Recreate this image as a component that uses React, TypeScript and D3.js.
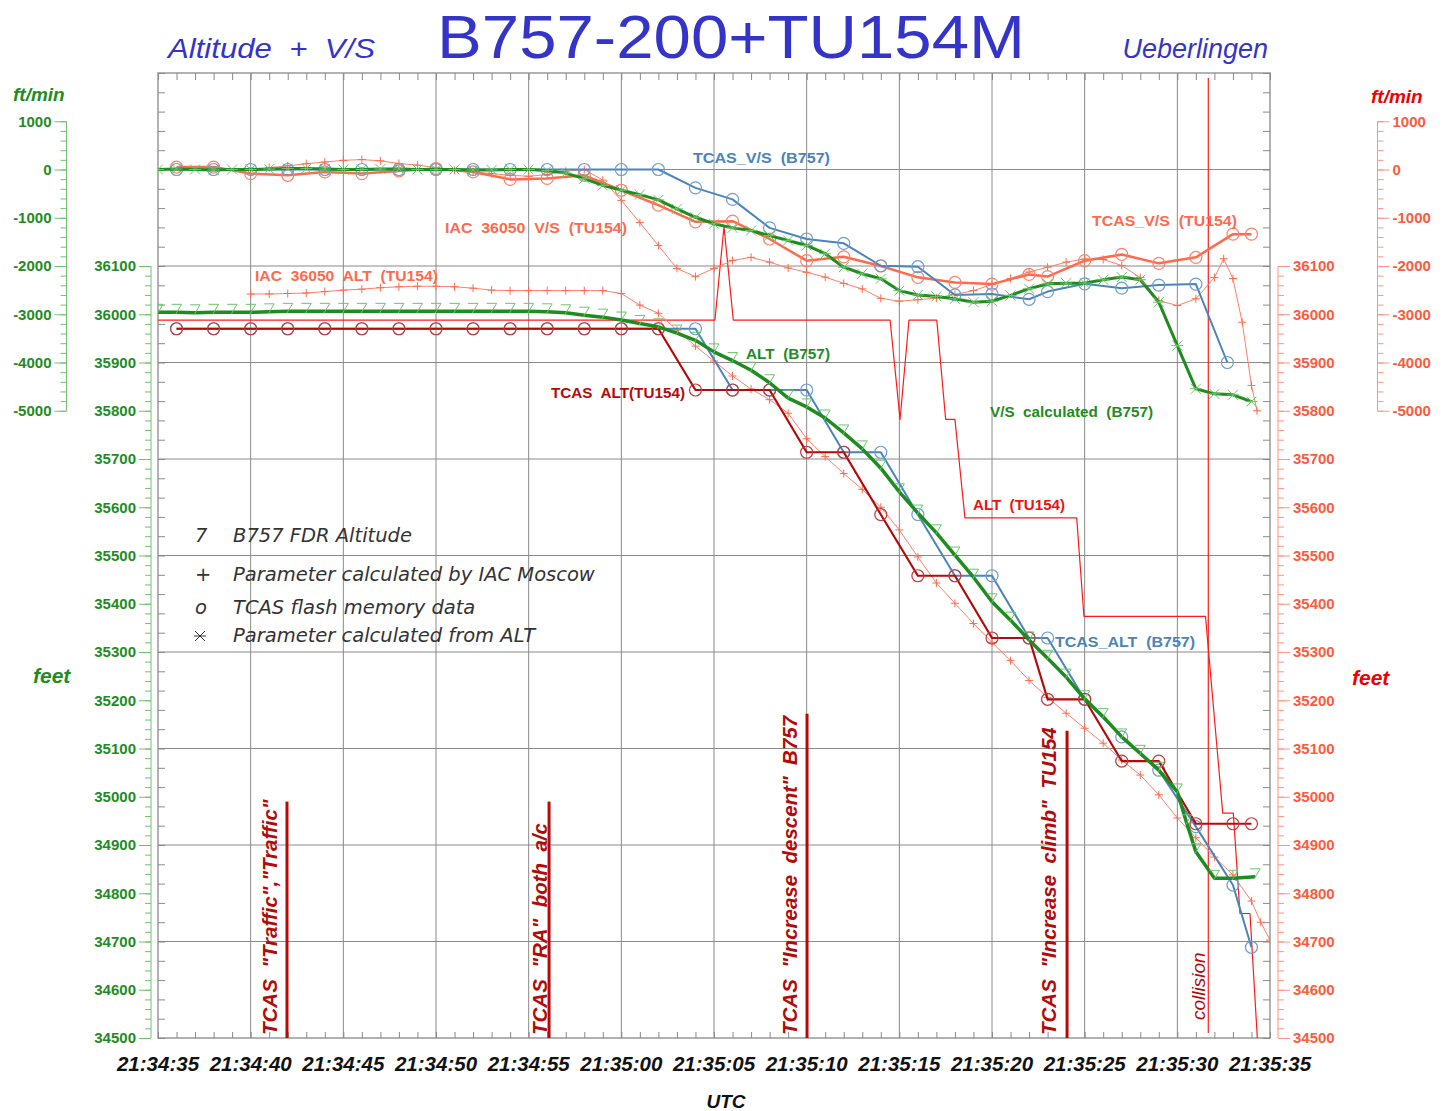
import React, { useEffect, useRef } from "react";
import * as d3 from "d3";

type Pt = [number, number];

// x values: seconds after 21:34:35 UTC
const timeLabels = ["21:34:35", "21:34:40", "21:34:45", "21:34:50", "21:34:55", "21:35:00", "21:35:05",
  "21:35:10", "21:35:15", "21:35:20", "21:35:25", "21:35:30", "21:35:35"];
const vsTickValues = [1000, 0, -1000, -2000, -3000, -4000, -5000];
const altTickValues = [36100, 36000, 35900, 35800, 35700, 35600, 35500, 35400, 35300, 35200, 35100,
  35000, 34900, 34800, 34700, 34600, 34500];

// ---- vertical speed, ft/min ----
const tcasVsB757: Pt[] = [[1, 0], [3, 0], [5, 0], [7, 0], [9, 0], [11, 0], [13, 0], [15, 0], [17, 0], [19, 0],
  [21, 0], [23, 0], [25, 0], [27, 0], [29, -380], [31, -620], [33, -1210], [35, -1440], [37, -1530], [39, -1995],
  [41, -2015], [43, -2600], [45, -2580], [47, -2690], [48, -2530], [50, -2370], [52, -2460], [54, -2395],
  [56, -2375], [57.7, -4000]];

const tcasVsTu154: Pt[] = [[1, 50], [3, 50], [5, -85], [7, -120], [9, -50], [11, -85], [13, -30], [15, 20],
  [17, -50], [19, -205], [21, -185], [23, -120], [25, -430], [27, -740], [29, -1085], [31, -1070], [33, -1440],
  [35, -1890], [37, -1810], [39, -2000], [41, -2235], [43, -2340], [45, -2375], [47, -2175], [48, -2220],
  [50, -1890], [52, -1760], [54, -1945], [56, -1820], [58, -1340], [59, -1340]];

const iacVsTu154: Pt[] = [[6, 40], [7, 75], [8, 120], [9, 155], [10, 190], [11, 205], [12, 180], [13, 125],
  [14, 90], [15, 40], [16, -15], [17, -50], [18, -85], [19, -120], [20, -140], [21, -105], [22, -35], [23, 0],
  [24, -220], [25, -640], [26, -1100], [27, -1575], [28, -2050], [29, -2220], [30, -2050], [31, -1885],
  [32, -1820], [33, -1920], [34, -2040], [35, -2130], [36, -2230], [37, -2360], [38, -2475], [39, -2670],
  [40, -2730], [41, -2700], [42, -2665], [43, -2590], [44, -2510], [45, -2385], [46, -2260], [47, -2125],
  [48, -2025], [49, -1920], [50, -1855], [51, -1865], [52, -1990], [53, -2240], [54, -2715], [55, -2820],
  [56, -2680], [57, -2240], [57.5, -1850], [58, -2260], [58.5, -3165], [59, -4475], [59.3, -5000]];

// one value per second from 21:34:35
const vsCalcB757 = [0, 10, 0, -10, 0, 0, 10, 20, 20, 10, 0, 0, 10, 10, 0, 0, 0, -10, -10, 0,
  0, -20, -75, -190, -330, -430, -520, -630, -815, -990, -1125, -1210, -1265, -1370, -1470, -1575, -1745,
  -2025, -2160, -2265, -2510, -2600, -2630, -2680, -2750, -2730, -2610, -2470, -2370, -2355, -2355, -2285,
  -2230, -2285, -2750, -3650, -4545, -4650, -4670, -4810];

// ---- altitude, ft ----
const altB757: Pt[] = [[0, 36004], [1, 36004], [2, 36003], [3, 36004], [4, 36004], [5, 36004], [6, 36005],
  [7, 36006], [8, 36006], [9, 36006], [10, 36006], [11, 36006], [12, 36006], [13, 36006], [14, 36006],
  [15, 36006], [16, 36006], [17, 36006], [18, 36006], [19, 36006], [20, 36006], [21, 36005], [22, 36003],
  [23, 35998], [24, 35994], [25, 35988], [26, 35981], [27, 35974], [28, 35961], [29, 35946], [30, 35922],
  [31, 35904], [32, 35884], [33, 35858], [34, 35826], [35, 35808], [36, 35785], [37, 35754], [38, 35721],
  [39, 35681], [40, 35632], [41, 35588], [42, 35547], [43, 35501], [44, 35455], [45, 35404], [46, 35366],
  [47, 35325], [48, 35287], [49, 35248], [50, 35203], [51, 35166], [52, 35124], [53, 35090], [54, 35055],
  [55, 35010], [55.5, 34946], [56, 34886], [57, 34831], [58, 34831], [59.2, 34834]];

const iacAltTu154: Pt[] = [[5, 36042], [6, 36042], [7, 36043], [8, 36044], [9, 36047], [10, 36050], [11, 36052],
  [12, 36055], [13, 36057], [14, 36058], [15, 36058], [16, 36057], [17, 36054], [18, 36050], [19, 36049],
  [20, 36049], [21, 36049], [22, 36049], [23, 36049], [24, 36049], [25, 36043], [26, 36019], [27, 36002],
  [28, 35967], [29, 35934], [30, 35903], [31, 35872], [32, 35845], [33, 35823], [34, 35795], [35, 35742],
  [36, 35705], [37, 35670], [38, 35637], [39, 35600], [40, 35553], [41, 35497], [42, 35443], [43, 35401],
  [44, 35359], [45, 35320], [46, 35282], [47, 35241], [48, 35206], [49, 35173], [50, 35142], [51, 35111],
  [52, 35076], [53, 35045], [54, 35004], [55, 34956], [56, 34915], [57, 34875], [58, 34838], [59, 34784],
  [59.5, 34740], [60, 34703]];

const tcasAltB757: Pt[] = [[1, 35970], [3, 35970], [5, 35970], [7, 35970], [9, 35970], [11, 35970], [13, 35970],
  [15, 35970], [17, 35970], [19, 35970], [21, 35970], [23, 35970], [25, 35970], [27, 35970], [29, 35970],
  [31, 35843], [33, 35843], [35, 35843], [37, 35714], [39, 35714], [41, 35585], [43, 35458], [45, 35458],
  [47, 35329], [48, 35329], [50, 35202], [52, 35124], [54, 35055], [56, 34938], [58, 34817], [59, 34688]];

const tcasAltTu154: Pt[] = [[1, 35970], [3, 35970], [5, 35970], [7, 35970], [9, 35970], [11, 35970],
  [13, 35970], [15, 35970], [17, 35970], [19, 35970], [21, 35970], [23, 35970], [25, 35970], [27, 35970],
  [29, 35843], [31, 35843], [33, 35843], [35, 35714], [37, 35714], [39, 35585], [41, 35458], [43, 35458],
  [45, 35329], [47, 35329], [48, 35202], [50, 35202], [52, 35074], [54, 35074], [56, 34944], [58, 34944],
  [59, 34944]];

const altTu154: Pt[] = [[0, 35988], [30.05, 35988], [30.54, 36182], [31.04, 35988], [39.5, 35988],
  [40.04, 35782], [40.52, 35988], [42.02, 35988], [42.5, 35782], [43, 35782], [43.54, 35578], [49.57, 35578],
  [49.96, 35374], [56.52, 35374], [57.45, 34966], [58.02, 34966], [58.38, 34758], [58.92, 34758],
  [59.5, 34380]];

// TCAS events: line time, top of line (ft), label position (time)
const events = [
  { t: 6.96, top: 34990, labelT: 6.42, label: 'TCAS  "Traffic","Traffic"' },
  { t: 21.1, top: 34990, labelT: 20.99, label: 'TCAS  "RA"  both  a/c' },
  { t: 35.02, top: 35172, labelT: 34.48, label: 'TCAS  "Increase  descent"  B757' },
  { t: 49.05, top: 35137, labelT: 48.45, label: 'TCAS  "Increase  climb"  TU154' },
];
const collisionT = 56.67;
const collisionLabelT = 56.5;

const legendItems = [
  { sym: "7", text: "B757 FDR Altitude" },
  { sym: "+", text: "Parameter calculated by IAC Moscow" },
  { sym: "o", text: "TCAS flash memory data" },
  { sym: "*", text: "Parameter calculated from ALT" },
];

const green = "#1f8c1f";
const greenLight = "#6cc46c";
const blue = "#4a84bb";
const blueLight = "#6c9ed0";
const darkRed = "#b40a0a";
const salmon = "#ff6a4d";
const salmonLight = "#ff8068";
const red = "#ff1a1a";
const sans = "'Liberation Sans', Arial, sans-serif";
const thin = "'DejaVu Sans ExtraLight', 'DejaVu Sans', sans-serif";

const markerPath: Record<string, string> = {
  plus: "M-4,0H4M0,-4V4",
  star: "M-5,-5L5,5M-5,5L5,-5M-6,0H6",
  seven: "M-5,-5H5L-1,5",
};

export default function App() {
  const svgRef = useRef<SVGSVGElement>(null);

  useEffect(() => {
    const svg = d3.select(svgRef.current);
    svg.selectAll("*").remove();

    const L = 158, R = 1270, T = 73, B = 1038;
    const x = d3.scaleLinear().domain([0, 60]).range([L, R]);
    const yAlt = d3.scaleLinear().domain([34500, 36500]).range([B, T]);
    const yVs = d3.scaleLinear().domain([-18000, 2000]).range([B, T]);

    svg.append("defs").append("clipPath").attr("id", "plot")
      .append("rect").attr("x", L).attr("y", T).attr("width", R - L).attr("height", B - T);

    // grid
    const grid = svg.append("g").attr("stroke", "#8a8a8a").attr("stroke-width", 1);
    d3.range(5, 60, 5).forEach((t) =>
      grid.append("line").attr("x1", x(t)).attr("x2", x(t)).attr("y1", T).attr("y2", B));
    d3.range(34700, 36400, 200).forEach((a) =>
      grid.append("line").attr("x1", L).attr("x2", R).attr("y1", yAlt(a)).attr("y2", yAlt(a)));
    svg.append("rect").attr("x", L).attr("y", T).attr("width", R - L).attr("height", B - T)
      .attr("fill", "none").attr("stroke", "#999").attr("stroke-width", 1.5);

    // frame ticks
    const frameTicks = (g: any) => {
      g.select(".domain").remove();
      g.selectAll("line").attr("stroke", "#8a8a8a");
    };
    const secs = d3.range(0, 61);
    const feet40 = d3.range(34500, 36501, 40);
    svg.append("g").attr("transform", `translate(0,${T})`)
      .call(d3.axisBottom(x).tickValues(secs).tickSize(7).tickFormat(() => "")).call(frameTicks);
    svg.append("g").attr("transform", `translate(0,${B})`)
      .call(d3.axisTop(x).tickValues(secs).tickSize(6).tickFormat(() => "")).call(frameTicks);
    svg.append("g").attr("transform", `translate(${L},0)`)
      .call(d3.axisRight(yAlt).tickValues(feet40).tickSize(7).tickFormat(() => "")).call(frameTicks);
    svg.append("g").attr("transform", `translate(${R},0)`)
      .call(d3.axisLeft(yAlt).tickValues(feet40).tickSize(7).tickFormat(() => "")).call(frameTicks);

    // side axes
    const sideAxis = (x0: number, scale: any, majors: number[], minors: number[], left: boolean,
      lineColor: string, textColor: string) => {
      const gen = left ? d3.axisLeft : d3.axisRight;
      const g = svg.append("g").attr("transform", `translate(${x0},0)`);
      g.append("g").call(gen(scale).tickValues(minors).tickSize(6).tickFormat(() => ""));
      g.append("g").call(gen(scale).tickValues(majors).tickSize(12).tickPadding(3)
        .tickFormat((d: any) => String(d)));
      g.selectAll(".domain").remove();
      g.selectAll("line").attr("stroke", lineColor);
      g.selectAll("text").attr("fill", textColor).attr("font-family", sans)
        .attr("font-weight", "bold").attr("font-size", 15);
      g.append("line").attr("y1", scale(d3.max(majors))).attr("y2", scale(d3.min(majors)))
        .attr("stroke", lineColor);
    };
    const vsMinor = d3.range(-5000, 1001, 200);
    const altMinor = d3.range(34500, 36101, 20);
    sideAxis(66.5, yVs, vsTickValues, vsMinor, true, "#72c072", green);
    sideAxis(151, yAlt, altTickValues, altMinor, true, "#72c072", green);
    sideAxis(1278, yAlt, altTickValues, altMinor, false, "#ff9482", "#ff5a3c");
    sideAxis(1377.5, yVs, vsTickValues, vsMinor, false, "#ff9482", "#ff5a3c");

    // x tick labels
    svg.append("g").selectAll("text").data(timeLabels).join("text")
      .attr("x", (_d, i) => x(i * 5)).attr("y", 1071).attr("text-anchor", "middle")
      .attr("font-family", sans).attr("font-weight", "bold").attr("font-style", "italic")
      .attr("font-size", 20.5).attr("fill", "#111").text((d) => d);

    const txt = (t: string, px: number, py: number, size: number, color: string,
      opts: { anchor?: string; bold?: boolean; italic?: boolean; len?: number; family?: string; weight?: number } = {}) => {
      const el = svg.append("text").attr("x", px).attr("y", py).attr("font-size", size)
        .attr("font-family", opts.family || sans).attr("fill", color)
        .attr("text-anchor", opts.anchor || "start")
        .attr("font-weight", opts.weight || (opts.bold ? "bold" : "normal"))
        .attr("font-style", opts.italic ? "italic" : "normal")
        .style("white-space", "pre").text(t);
      if (opts.len) el.attr("textLength", opts.len).attr("lengthAdjust", "spacingAndGlyphs");
      return el;
    };

    // titles
    txt("B757-200+TU154M", 731, 58, 62, "#3434c8", { anchor: "middle", len: 588 });
    txt("Altitude  +  V/S", 168, 58, 27, "#3434c8", { italic: true, len: 207 });
    txt("Ueberlingen", 1268, 58, 27, "#3434c8", { italic: true, anchor: "end" });
    txt("ft/min", 13, 101, 19, green, { bold: true, italic: true });
    txt("feet", 33, 683, 21, green, { bold: true, italic: true });
    txt("ft/min", 1371, 103, 19, "#ee0000", { bold: true, italic: true });
    txt("feet", 1352, 685, 21, "#ee0000", { bold: true, italic: true });
    txt("UTC", 726, 1108, 19, "#111", { bold: true, italic: true, anchor: "middle" });

    const plot = svg.append("g").attr("clip-path", "url(#plot)");

    // TCAS event bars
    events.forEach((e) => {
      plot.append("line").attr("x1", x(e.t)).attr("x2", x(e.t)).attr("y1", yAlt(e.top)).attr("y2", B)
        .attr("stroke", darkRed).attr("stroke-width", 3);
    });
    plot.append("line").attr("x1", x(collisionT)).attr("x2", x(collisionT)).attr("y1", T + 5).attr("y2", B - 5)
      .attr("stroke", red).attr("stroke-width", 1.2);

    const series = (data: Pt[], ys: any, color: string, width: number, marker: string | null,
      mColor: string, mSize: number, mDy = 0) => {
      const line = d3.line<Pt>().x((d) => x(d[0])).y((d) => ys(d[1]));
      plot.append("path").datum(data).attr("fill", "none").attr("stroke", color)
        .attr("stroke-width", width).attr("stroke-linejoin", "round").attr("d", line);
      if (!marker) return;
      const m = plot.append("g").selectAll("g").data(data).join("g")
        .attr("transform", (d) => `translate(${x(d[0])},${ys(d[1]) + mDy})`);
      if (marker === "circle") {
        m.append("circle").attr("r", mSize).attr("fill", "none").attr("stroke", mColor).attr("stroke-width", 1.2);
      } else {
        m.append("path").attr("d", markerPath[marker]).attr("fill", "none").attr("stroke", mColor)
          .attr("stroke-width", 1);
      }
    };

    series(altTu154, yAlt, red, 1.2, null, red, 0);
    series(iacVsTu154, yVs, salmonLight, 1, "plus", salmon, 4);
    series(iacAltTu154, yAlt, salmonLight, 1, "plus", salmon, 4);
    series(tcasVsTu154, yVs, salmon, 2.5, "circle", salmonLight, 6);
    series(tcasVsB757, yVs, blue, 2, "circle", blueLight, 6);
    series(tcasAltB757, yAlt, blue, 2, "circle", blueLight, 6);
    series(tcasAltTu154, yAlt, darkRed, 2.2, "circle", "#c23a3a", 6);
    series(vsCalcB757.map((v, i) => [i, v] as Pt), yVs, green, 3, "star", greenLight, 5);
    series(altB757, yAlt, green, 3.5, "seven", greenLight, 5, -3);

    // rotated event labels
    events.forEach((e) => {
      svg.append("text").attr("transform", `translate(${x(e.labelT)},${B - 3}) rotate(-90)`)
        .attr("font-family", sans).attr("font-weight", "bold").attr("font-style", "italic")
        .attr("font-size", 20.5).attr("fill", darkRed).style("white-space", "pre").text(e.label);
    });
    svg.append("text").attr("transform", `translate(${x(collisionLabelT)},${B - 18}) rotate(-90)`)
      .attr("font-family", sans).attr("font-style", "italic")
      .attr("font-size", 19).attr("fill", darkRed).text("collision");

    // series labels
    txt("TCAS_V/S  (B757)", 693, 163, 15, blue, { bold: true, len: 137 });
    txt("IAC  36050  V/S  (TU154)", 445, 233, 15, salmon, { bold: true, len: 182 });
    txt("TCAS_V/S  (TU154)", 1092, 226, 15, salmon, { bold: true, len: 145 });
    txt("IAC  36050  ALT  (TU154)", 255, 281, 15, salmon, { bold: true, len: 183 });
    txt("ALT  (B757)", 746, 359, 15, green, { bold: true, len: 84 });
    txt("TCAS  ALT(TU154)", 551, 398, 15, darkRed, { bold: true, len: 134 });
    txt("V/S  calculated  (B757)", 990, 417, 15, green, { bold: true, len: 163 });
    txt("ALT  (TU154)", 973, 510, 15, "#ee1111", { bold: true, len: 92 });
    txt("TCAS_ALT  (B757)", 1055, 647, 15, blue, { bold: true, len: 140 });

    // legend
    const lg = svg.append("g");
    const rows = [542, 581, 614, 642];
    legendItems.forEach((it, i) => {
      if (it.sym === "*") {
        lg.append("path").attr("d", markerPath.star).attr("transform", `translate(200,${rows[i] - 6})`)
          .attr("fill", "none").attr("stroke", "#333").attr("stroke-width", 1);
      } else {
        txt(it.sym, 195, rows[i], 19.5, "#333", { italic: true, family: thin, weight: 200 });
      }
      txt(it.text, 233, rows[i], 19.5, "#333", { italic: true, family: thin, weight: 200 });
    });
  }, []);

  return (
    <svg ref={svgRef} width={1442} height={1111}
      style={{ position: "absolute", left: 0, top: 0, background: "#fff" }} />
  );
}
